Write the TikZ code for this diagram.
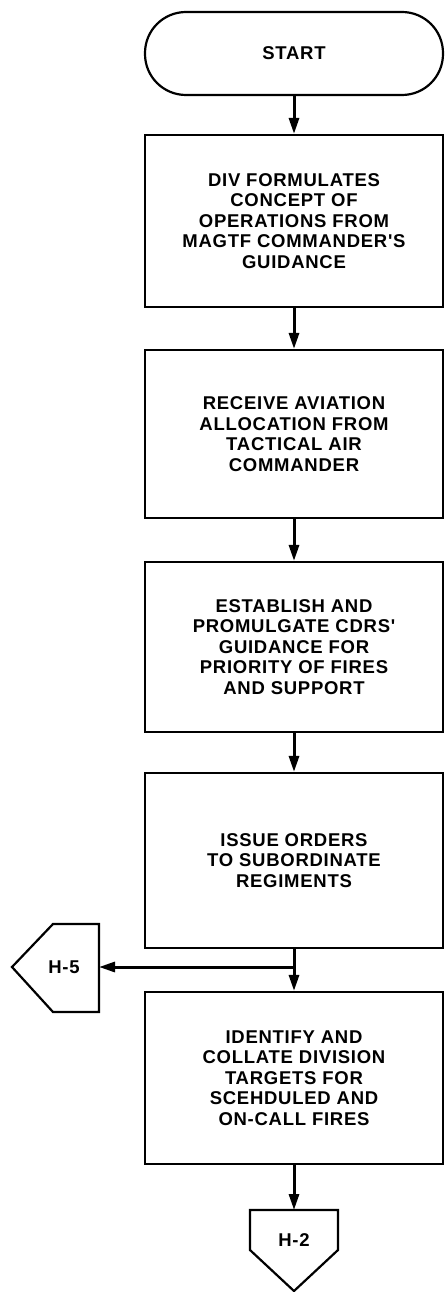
\documentclass[tikz,border=0pt]{standalone}
\usepackage{fontspec}
\setmainfont{Liberation Sans}
\newfontfamily\chartfont[LetterSpace=4]{Liberation Sans}
\usetikzlibrary{arrows.meta}

\begin{document}
\begin{tikzpicture}[x=1pt, y=-1pt,
  txt/.style={font=\chartfont\bfseries\fontsize{18.5}{20.5}\selectfont, align=center, text=black},
  procbox/.style={draw, line width=2.2pt, minimum width=298pt, inner sep=0pt, txt},
  termbox/.style={procbox, rounded corners=41pt},
  offpage/.style={line width=2.2pt, line join=miter},
  flow/.style={line width=3pt, -{Triangle[length=16pt, width=10pt]}},
]
\useasboundingbox (0,0) rectangle (446,1292);

% terminal and process steps
\node[termbox, minimum height=83pt] (start) at (294,53.5) {START};
\node[procbox, minimum height=172pt] (b1) at (294,221)
  {DIV FORMULATES\\CONCEPT OF\\OPERATIONS FROM\\MAGTF COMMANDER'S\\GUIDANCE};
\node[procbox, minimum height=168pt] (b2) at (294,434)
  {RECEIVE AVIATION\\ALLOCATION FROM\\TACTICAL AIR\\COMMANDER};
\node[procbox, minimum height=170pt] (b3) at (294,647)
  {ESTABLISH AND\\PROMULGATE CDRS'\\GUIDANCE FOR\\PRIORITY OF FIRES\\AND SUPPORT};
\node[procbox, minimum height=175pt] (b4) at (294,860.5)
  {ISSUE ORDERS\\TO SUBORDINATE\\REGIMENTS};
\node[procbox, minimum height=172pt] (b5) at (294,1078)
  {IDENTIFY AND\\COLLATE DIVISION\\TARGETS FOR\\SCEHDULED AND\\ON-CALL FIRES};

% off-page connector pointing left
\draw[offpage] (99,924) -- (53,924) -- (12,967) -- (53,1012) -- (99,1012) -- cycle;
\node[txt] (h5) at (64,967) {H-5};
\coordinate (h5in) at (99,967);

% off-page connector pointing down
\draw[offpage] (250,1210) -- (338,1210) -- (338,1250) -- (294,1291) -- (250,1250) -- cycle;
\node[txt] (h2) at (294,1240) {H-2};
\coordinate (h2in) at (294,1210);

% branch point between the fourth and fifth steps
\coordinate (j) at (294,967);

% connectors
\draw[flow] (start) -- (b1);
\draw[flow] (b1) -- (b2);
\draw[flow] (b2) -- (b3);
\draw[flow] (b3) -- (b4);
\draw[flow] (b4) -- (b5);
\draw[flow] (j) -- (h5in);
\draw[flow] (b5) -- (h2in);
\end{tikzpicture}
\end{document}
